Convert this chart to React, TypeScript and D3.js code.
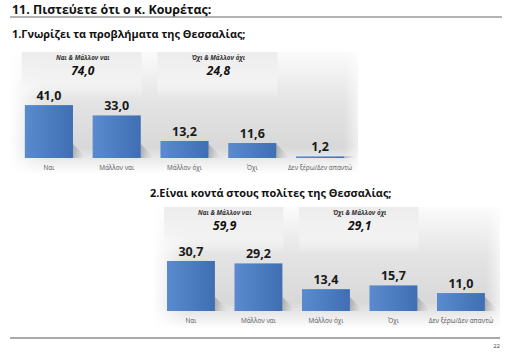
import React, { useEffect, useRef } from 'react';
import * as d3 from 'd3';

// survey answers
const categories = ['Ναι', 'Μάλλον ναι', 'Μάλλον όχι', 'Όχι', 'Δεν ξέρω/Δεν απαντώ'];
const knowsValues = [41.0, 33.0, 13.2, 11.6, 1.2];
const closeValues = [30.7, 29.2, 13.4, 15.7, 11.0];

// grouped totals shown above the bars
const groupLabels = ['Ναι & Μάλλον ναι', 'Όχι & Μάλλον όχι'];
const groupMembers = [['Ναι', 'Μάλλον ναι'], ['Μάλλον όχι', 'Όχι']];
const knowsGroupValues = [74.0, 24.8];
const closeGroupValues = [59.9, 29.1];

const pageTitle = '11. Πιστεύετε ότι ο κ. Κουρέτας:';
const knowsTitle = '1.Γνωρίζει τα προβλήματα της Θεσσαλίας;';
const closeTitle = '2.Είναι κοντά στους πολίτες της Θεσσαλίας;';
const pageNumber = '22';

const FONT = "'Open Sans', 'Noto Sans', sans-serif";

const fmt = (v: number) => d3.format('.1f')(v).replace('.', ',');

type ChartOpts = {
  id: string;
  title: string;
  titleX: number;
  titleY: number;
  values: number[];
  groupValues: number[];
  panel: { x: number; y: number; w: number; h: number };
  bandRange: [number, number];
  baseline: number;
  pxPerUnit: number;
};

function App() {
  const ref = useRef<SVGSVGElement | null>(null);

  useEffect(() => {
    const svg = d3.select(ref.current);
    svg.selectAll('*').remove();

    const defs = svg.append('defs');

    const panelGrad = defs.append('linearGradient').attr('id', 'panelGrad')
      .attr('x1', 0).attr('y1', 0).attr('x2', 0).attr('y2', 1);
    panelGrad.append('stop').attr('offset', '0%').attr('stop-color', '#fbfbfb');
    panelGrad.append('stop').attr('offset', '40%').attr('stop-color', '#e4e4e4');
    panelGrad.append('stop').attr('offset', '78%').attr('stop-color', '#d8d8d8');
    panelGrad.append('stop').attr('offset', '100%').attr('stop-color', '#ffffff');

    const edgeGrad = defs.append('linearGradient').attr('id', 'edgeGrad')
      .attr('x1', 0).attr('y1', 0).attr('x2', 1).attr('y2', 0);
    edgeGrad.append('stop').attr('offset', '0%').attr('stop-color', '#fff').attr('stop-opacity', 1);
    edgeGrad.append('stop').attr('offset', '10%').attr('stop-color', '#fff').attr('stop-opacity', 0);
    edgeGrad.append('stop').attr('offset', '96%').attr('stop-color', '#fff').attr('stop-opacity', 0);
    edgeGrad.append('stop').attr('offset', '100%').attr('stop-color', '#fff').attr('stop-opacity', 0.6);

    const headGrad = defs.append('linearGradient').attr('id', 'headGrad')
      .attr('x1', 0).attr('y1', 0).attr('x2', 0).attr('y2', 1);
    headGrad.append('stop').attr('offset', '0%').attr('stop-color', '#ececec');
    headGrad.append('stop').attr('offset', '60%').attr('stop-color', '#f3f3f3').attr('stop-opacity', 0.8);
    headGrad.append('stop').attr('offset', '100%').attr('stop-color', '#ffffff').attr('stop-opacity', 0);

    const barGrad = defs.append('linearGradient').attr('id', 'barGrad')
      .attr('x1', 0).attr('y1', 0).attr('x2', 1).attr('y2', 0);
    barGrad.append('stop').attr('offset', '0%').attr('stop-color', '#5a8bcf');
    barGrad.append('stop').attr('offset', '100%').attr('stop-color', '#3f6fb2');

    const shadowGrad = defs.append('linearGradient').attr('id', 'shadowGrad')
      .attr('x1', 0).attr('y1', 0).attr('x2', 1).attr('y2', 0);
    shadowGrad.append('stop').attr('offset', '0%').attr('stop-color', '#9a9a9a').attr('stop-opacity', 0.7);
    shadowGrad.append('stop').attr('offset', '100%').attr('stop-color', '#bbbbbb').attr('stop-opacity', 0);

    // page header
    svg.append('text')
      .attr('x', 12).attr('y', 14)
      .style('font-family', FONT).style('font-weight', 700).style('font-size', '12.4px')
      .style('fill', '#111')
      .text(pageTitle);
    svg.append('line')
      .attr('x1', 10).attr('x2', 502).attr('y1', 17).attr('y2', 17)
      .style('stroke', '#9a9a9a').style('stroke-width', 1.5);

    function drawChart(o: ChartOpts) {
      const g = svg.append('g').attr('id', o.id);

      g.append('text')
        .attr('x', o.titleX).attr('y', o.titleY)
        .style('font-family', FONT).style('font-weight', 700).style('font-size', '10.9px')
        .style('fill', '#111')
        .text(o.title);

      const x = d3.scaleBand<string>()
        .domain(categories)
        .range(o.bandRange)
        .paddingInner(0.29)
        .paddingOuter(0.145);

      const y = d3.scaleLinear()
        .domain([0, 50])
        .range([o.baseline, o.baseline - 50 * o.pxPerUnit]);

      // background panel
      g.append('rect')
        .attr('x', o.panel.x).attr('y', o.panel.y)
        .attr('width', o.panel.w).attr('height', o.panel.h)
        .style('fill', 'url(#panelGrad)');
      g.append('rect')
        .attr('x', o.panel.x).attr('y', o.panel.y)
        .attr('width', o.panel.w).attr('height', o.panel.h)
        .style('fill', 'url(#edgeGrad)');

      // group header boxes
      const heads = g.selectAll('g.head')
        .data(groupLabels.map((label, i) => ({ label, value: o.groupValues[i], members: groupMembers[i] })))
        .enter().append('g').attr('class', 'head');

      heads.append('rect')
        .attr('x', (d) => (x(d.members[0]) as number) - 3)
        .attr('y', o.panel.y)
        .attr('width', (d) => (x(d.members[1]) as number) + x.bandwidth() - (x(d.members[0]) as number) + 4)
        .attr('height', 46)
        .style('fill', 'url(#headGrad)');

      const headCx = (d: { members: string[] }) =>
        ((x(d.members[0]) as number) + (x(d.members[1]) as number) + x.bandwidth()) / 2;

      heads.append('text')
        .attr('x', headCx)
        .attr('y', o.panel.y + 8)
        .attr('text-anchor', 'middle')
        .style('font-family', FONT).style('font-size', '6.3px')
        .style('font-weight', 700).style('font-style', 'italic')
        .style('fill', '#333')
        .text((d) => d.label);

      heads.append('text')
        .attr('x', headCx)
        .attr('y', o.panel.y + 23)
        .attr('text-anchor', 'middle')
        .style('font-family', FONT).style('font-size', '12px')
        .style('font-weight', 700).style('font-style', 'italic')
        .style('fill', '#111')
        .text((d) => fmt(d.value));

      const bars = g.selectAll('g.bar')
        .data(categories.map((c, i) => ({ c, v: o.values[i] })))
        .enter().append('g').attr('class', 'bar');

      // soft floor shadow
      bars.append('path')
        .attr('d', (d) => {
          const x0 = (x(d.c) as number) + x.bandwidth();
          const top = y(d.v);
          const h = Math.min(o.baseline - top, 14);
          return `M${x0},${o.baseline} L${x0},${o.baseline - h} L${x0 + 12},${o.baseline - 2} L${x0 + 12},${o.baseline} Z`;
        })
        .style('fill', 'url(#shadowGrad)');

      bars.append('rect')
        .attr('x', (d) => x(d.c) as number)
        .attr('y', (d) => y(d.v))
        .attr('width', x.bandwidth())
        .attr('height', (d) => o.baseline - y(d.v))
        .style('fill', 'url(#barGrad)');

      bars.append('text')
        .attr('x', (d) => (x(d.c) as number) + x.bandwidth() / 2)
        .attr('y', (d) => y(d.v) - 5)
        .attr('text-anchor', 'middle')
        .style('font-family', FONT).style('font-size', '12.5px').style('font-weight', 700)
        .style('fill', '#1a1a1a')
        .text((d) => fmt(d.v));

      bars.append('text')
        .attr('x', (d) => (x(d.c) as number) + x.bandwidth() / 2)
        .attr('y', o.baseline + 12)
        .attr('text-anchor', 'middle')
        .style('font-family', FONT).style('font-size', '6.4px')
        .style('fill', '#555')
        .text((d) => d.c);
    }

    drawChart({
      id: 'knows',
      title: knowsTitle,
      titleX: 12,
      titleY: 38,
      values: knowsValues,
      groupValues: knowsGroupValues,
      panel: { x: 10, y: 52, w: 348, h: 122 },
      bandRange: [15, 354],
      baseline: 158,
      pxPerUnit: 1.29,
    });

    drawChart({
      id: 'close',
      title: closeTitle,
      titleX: 150,
      titleY: 197,
      values: closeValues,
      groupValues: closeGroupValues,
      panel: { x: 153, y: 207, w: 347, h: 122 },
      bandRange: [157.2, 494.7],
      baseline: 311,
      pxPerUnit: 1.63,
    });

    // page footer
    svg.append('line')
      .attr('x1', 10).attr('x2', 500).attr('y1', 338).attr('y2', 338)
      .style('stroke', '#555').style('stroke-width', 1);
    svg.append('text')
      .attr('x', 500).attr('y', 348)
      .attr('text-anchor', 'end')
      .style('font-family', FONT).style('font-size', '6px')
      .style('fill', '#444')
      .text(pageNumber);
  }, []);

  return (
    <svg
      ref={ref}
      width={516}
      height={354}
      style={{ position: 'absolute', left: 0, top: 0, background: 'white' }}
    />
  );
}

export default App;
